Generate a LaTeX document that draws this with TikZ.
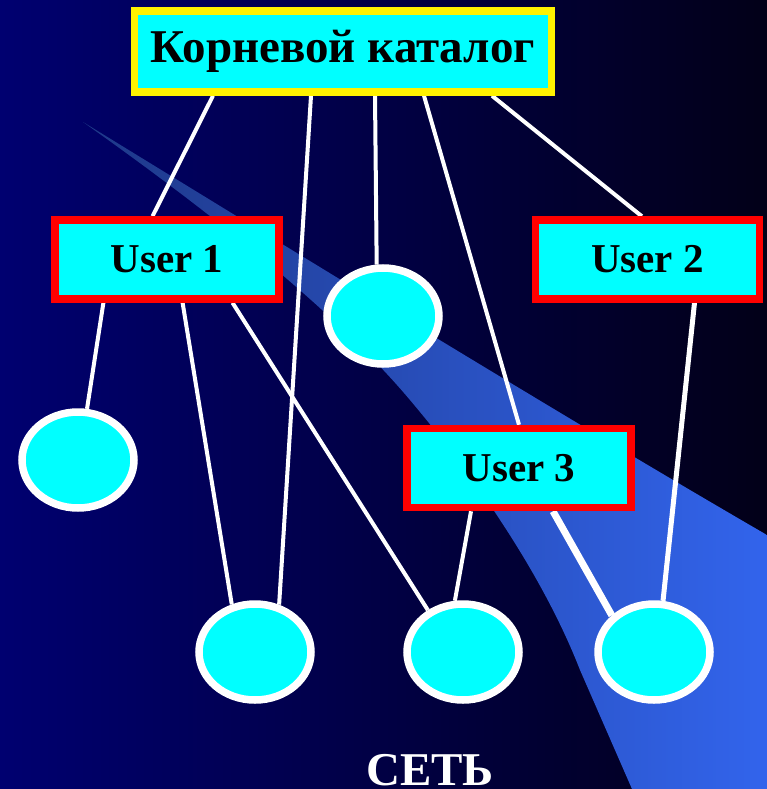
\documentclass[tikz,border=0pt]{standalone}
\usepackage{fontspec}
\setmainfont{Liberation Serif}
\usetikzlibrary{shapes.geometric}
\pgfdeclarelayer{backdrop}
\pgfsetlayers{backdrop,main}
\definecolor{bgleft}{RGB}{0,0,112}
\definecolor{bgright}{RGB}{2,0,24}
\definecolor{bandleft}{RGB}{30,56,136}
\definecolor{bandright}{RGB}{50,100,236}
\definecolor{aqua}{RGB}{0,255,255}
\begin{document}
\begin{tikzpicture}[x=1pt,y=-1pt,
  box/.style={rectangle, fill=aqua, line width=7.5pt, inner sep=0pt,
    minimum width=224pt, minimum height=79pt,
    font=\fontsize{41}{44}\selectfont\bfseries},
  userbox/.style={box, draw=red},
  rootbox/.style={box, draw=yellow, minimum width=417pt, minimum height=81pt,
    font=\fontsize{47}{50}\selectfont\bfseries},
  host/.style={ellipse, fill=aqua, draw=white, line width=7.5pt,
    minimum width=112pt, minimum height=96pt, inner sep=0pt},
  link/.style={draw=white, line width=4pt},
  thicklink/.style={draw=white, line width=7pt},
]
\useasboundingbox (0,0) rectangle (767,789);

% directory boxes
\node[rootbox] (root) at (343,51.5) {Корневой каталог};
\node[userbox] (u1) at (167,259.5) {User 1};
\node[userbox] (u2) at (647.5,259.5) {User 2};
\node[userbox] (u3) at (519,468) {User 3};

% network hosts
\node[host] (emid)  at (383,316) {};
\node[host] (eleft) at (78,460) {};
\node[host] (eb1)   at (255,652) {};
\node[host] (eb2)   at (463,652) {};
\node[host] (eb3)   at (654,652) {};

\node[anchor=base, text=white, font=\fontsize{47}{50}\selectfont\bfseries]
  (net) at (430,785) {СЕТЬ};

\begin{pgfonlayer}{backdrop}
  % slide background and diagonal band
  \shade[left color=bgleft, right color=bgright] (0,0) rectangle (767,789);
  \shade[left color=bandleft, right color=bandright]
    (83,122) .. controls (200,205) and (330,305) .. (410,400)
    .. controls (480,483) and (545,580) .. (580,670)
    -- (632,789) -- (767,789) -- (767,535)
    .. controls (560,415) and (300,255) .. (83,122) -- cycle;

  % links
  \draw[link] ([xshift=-130pt]root.south) -- ([xshift=-14.5pt]u1.north);
  \draw[link] ([xshift=-32pt]root.south) -- (eb1.63);
  \draw[link] ([xshift=32pt]root.south) -- (emid.97);
  \draw[link] ([xshift=81pt]root.south) -- (u3.north);
  \draw[link] ([xshift=149pt]root.south) -- ([xshift=-5.7pt]u2.north);
  \draw[link] ([xshift=-63.6pt]u1.south) -- (eleft.80);
  \draw[link] ([xshift=15.6pt]u1.south) -- (eb1.116);
  \draw[link] ([xshift=65.5pt]u1.south) -- (eb2.130);
  \draw[link, line width=5pt] ([xshift=47pt]u2.south) -- (eb3.80);
  \draw[link] ([xshift=-48pt]u3.south) -- (eb2.99);
  \draw[thicklink] ([xshift=34pt]u3.south) -- (eb3.139);
\end{pgfonlayer}
\end{tikzpicture}
\end{document}
